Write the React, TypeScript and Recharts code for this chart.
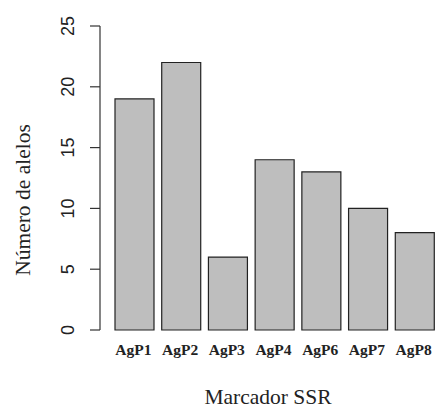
import React from "react";
import { BarChart, Bar, XAxis, YAxis, Label } from "recharts";

const markers = ["AgP1", "AgP2", "AgP3", "AgP4", "AgP6", "AgP7", "AgP8"];
const alleles = [19, 22, 6, 14, 13, 10, 8];
const yTicks = [0, 5, 10, 15, 20, 25];

const data = markers.map((m, i) => ({ marker: m, alelos: alleles[i] }));

const SERIF = "'Liberation Serif', 'Times New Roman', serif";
const SANS = "'Liberation Sans', Arial, sans-serif";

function YTick(props: any) {
  const { x, y, payload } = props;
  const cx = x - 20;
  return (
    <text
      x={cx}
      y={y}
      transform={`rotate(-90, ${cx}, ${y})`}
      textAnchor="middle"
      dominantBaseline="central"
      fill="#222"
      style={{ fontFamily: SANS, fontSize: 18 }}
    >
      {payload.value}
    </text>
  );
}

function XTick(props: any) {
  const { x, y, payload } = props;
  return (
    <text
      x={x - 1}
      y={y + 25}
      textAnchor="middle"
      fill="#222"
      style={{ fontFamily: SERIF, fontSize: 15.5, fontWeight: 700 }}
    >
      {payload.value}
    </text>
  );
}

export default function App() {
  return (
    <div style={{ position: "absolute", left: 0, top: 0, background: "#fff" }}>
      <BarChart
        width={440}
        height={409}
        data={data}
        margin={{ top: 26, right: 2, bottom: 49, left: 0 }}
      >
        <XAxis
          dataKey="marker"
          height={30}
          axisLine={false}
          tickLine={false}
          tickSize={0}
          tickMargin={0}
          padding={{ left: 11, right: 0 }}
          tick={<XTick />}
          interval={0}
        >
          <Label
            content={() => (
              <text
                x={268}
                y={404}
                textAnchor="middle"
                fill="#222"
                style={{ fontFamily: SERIF, fontSize: 21.5 }}
              >
                Marcador SSR
              </text>
            )}
          />
        </XAxis>
        <YAxis
          width={100}
          domain={[0, 25]}
          ticks={yTicks}
          tickSize={10}
          tickMargin={2}
          interval={0}
          axisLine={{ stroke: "#333", strokeWidth: 1.2 }}
          tickLine={{ stroke: "#333", strokeWidth: 1.2 }}
          tick={<YTick />}
        >
          <Label
            content={() => (
              <text
                x={23}
                y={200}
                transform="rotate(-90, 23, 200)"
                textAnchor="middle"
                dominantBaseline="central"
                fill="#222"
                style={{ fontFamily: SERIF, fontSize: 21.5 }}
              >
                Número de alelos
              </text>
            )}
          />
        </YAxis>
        <Bar
          dataKey="alelos"
          fill="#BEBEBE"
          stroke="#222"
          strokeWidth={1.2}
          barSize={39}
          isAnimationActive={false}
        />
      </BarChart>
    </div>
  );
}
